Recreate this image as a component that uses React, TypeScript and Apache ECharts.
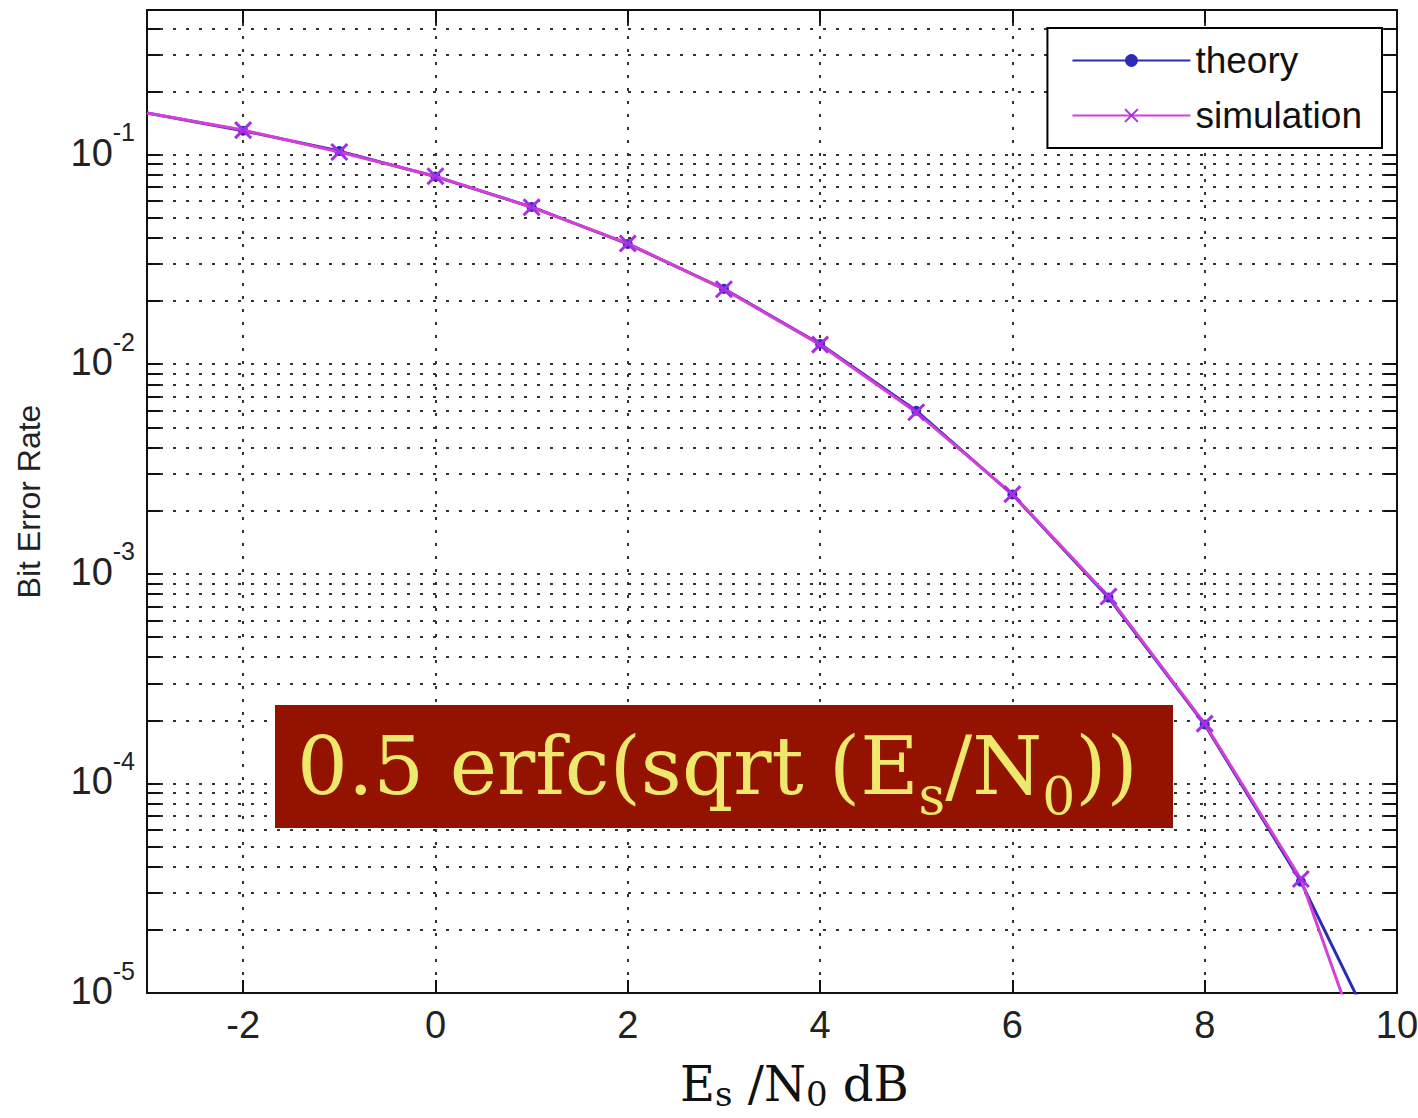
import React, { useEffect, useRef } from "react";
import * as echarts from "echarts";

// ---------- data ----------
const xValues = [-3, -2, -1, 0, 1, 2, 3, 4, 5, 6, 7, 8, 9, 10];
const theory = [0.158, 0.13, 0.104, 0.0786, 0.0563, 0.0375, 0.0229, 0.0125, 0.006, 0.00239, 0.00077, 0.000191, 3.4e-5, 3.9e-6];
const simulation = [0.158, 0.131, 0.103, 0.0789, 0.0561, 0.0377, 0.0228, 0.0124, 0.0059, 0.0024, 0.00078, 0.000193, 3.5e-5, 1.8e-6];
const xTicks = [-2, 0, 2, 4, 6, 8, 10];
const yMajorTicks = [1e-5, 1e-4, 1e-3, 1e-2, 1e-1];
const yMinorMantissas = [2, 3, 4, 5, 6, 7, 8, 9];
const seriesNames = ["theory", "simulation"];

const X_MIN = -3;
const X_MAX = 10;
const Y_MIN = 1e-5;
const Y_MAX = 0.49;

const yAllTicks: number[] = [];
yMajorTicks.forEach((d) => {
  yAllTicks.push(d);
  yMinorMantissas.forEach((m) => {
    const v = parseFloat((m * d).toPrecision(3));
    if (v <= Y_MAX) yAllTicks.push(v);
  });
});

const SANS = "'Liberation Sans', Arial, sans-serif";
const SERIF = "'DejaVu Serif', 'Liberation Serif', serif";

const gridLine = { color: "#333", width: 2, type: [3, 10] as number[] };
const tickStyle = { color: "#111", width: 2 };

// no marker drawn at the left boundary point
const pointData = (vals: number[]) =>
  xValues.map((x, i) => (x === X_MIN ? { value: [x, vals[i]], symbol: "none" } : [x, vals[i]]));

export default function App() {
  const ref = useRef<HTMLDivElement>(null);

  useEffect(() => {
    if (!ref.current) return;
    const chart = echarts.init(ref.current, null, { renderer: "svg" });

    const yLabelRich = {
      b: { fontSize: 38, fontFamily: SANS, color: "#222", verticalAlign: "bottom" },
      s: { fontSize: 25, fontFamily: SANS, color: "#222", padding: [0, 0, 27, 0], verticalAlign: "bottom" },
    };

    const option: any = {
      animation: false,
      backgroundColor: "#fff",
      grid: { left: 147, top: 10, right: 21, bottom: 125, outerBoundsMode: "none", containLabel: false },
      legend: {
        data: seriesNames,
        right: 36,
        top: 28,
        orient: "vertical",
        backgroundColor: "#fff",
        borderColor: "#000",
        borderWidth: 2,
        borderRadius: 0,
        padding: [14, 20, 14, 24],
        itemGap: 18,
        itemWidth: 118,
        itemHeight: 16,
        textStyle: { fontSize: 37, fontFamily: SANS, color: "#111" },
        z: 20,
      },
      xAxis: [
        {
          type: "value",
          min: X_MIN,
          max: X_MAX,
          position: "bottom",
          axisLine: { show: true, onZero: false, lineStyle: { color: "#111", width: 2 } },
          axisTick: { show: true, inside: true, length: 13, customValues: xTicks, lineStyle: tickStyle },
          axisLabel: { show: true, customValues: xTicks, fontSize: 38, fontFamily: SANS, color: "#222", margin: 13 },
          splitLine: { show: true, lineStyle: gridLine },
        },
        {
          type: "value",
          min: X_MIN,
          max: X_MAX,
          position: "top",
          axisLine: { show: true, onZero: false, lineStyle: { color: "#111", width: 2 } },
          axisTick: { show: true, inside: true, length: 13, customValues: xTicks, lineStyle: tickStyle },
          axisLabel: { show: false },
          splitLine: { show: false },
        },
      ],
      yAxis: [
        {
          type: "log",
          logBase: 10,
          min: Y_MIN,
          max: Y_MAX,
          position: "left",
          name: "Bit Error Rate",
          nameLocation: "middle",
          nameGap: 102,
          nameRotate: 90,
          nameTextStyle: { fontSize: 32, fontFamily: SANS, color: "#222" },
          axisLine: { show: true, onZero: false, lineStyle: { color: "#111", width: 2 } },
          axisTick: { show: true, inside: true, length: 13, customValues: yAllTicks, lineStyle: tickStyle },
          axisLabel: {
            show: true,
            customValues: yMajorTicks,
            margin: 12,
            padding: [0, 0, 18, 0],
            formatter: (v: number) => `{b|10}{s|${Math.round(Math.log10(v))}}`,
            rich: yLabelRich,
          },
          splitLine: { show: true, lineStyle: gridLine },
        },
        {
          type: "log",
          logBase: 10,
          min: Y_MIN,
          max: Y_MAX,
          position: "right",
          axisLine: { show: true, onZero: false, lineStyle: { color: "#111", width: 2 } },
          axisTick: { show: true, inside: true, length: 13, customValues: yAllTicks, lineStyle: tickStyle },
          axisLabel: { show: false },
          splitLine: { show: false },
        },
      ],
      series: [
        {
          name: seriesNames[0],
          type: "line",
          xAxisIndex: 0,
          yAxisIndex: 0,
          data: pointData(theory),
          lineStyle: { color: "#2b2bb5", width: 3 },
          itemStyle: { color: "#2b2bb5" },
          symbol: "circle",
          symbolSize: 10,
          showSymbol: true,
          clip: true,
          z: 3,
        },
        {
          name: seriesNames[1],
          type: "line",
          xAxisIndex: 0,
          yAxisIndex: 0,
          data: pointData(simulation),
          lineStyle: { color: "#d33fd8", width: 3 },
          itemStyle: { color: "#9a2fe0", borderColor: "#a52fe6", borderWidth: 3 },
          symbol: "path://M0,0L10,10M10,0L0,10",
          symbolSize: 16,
          showSymbol: true,
          clip: true,
          z: 4,
        },
      ],
      graphic: [
        {
          type: "rect",
          z: 100,
          shape: { x: 275, y: 705, width: 898, height: 123 },
          style: { fill: "#931300" },
        },
        {
          type: "text",
          z: 101,
          x: 297,
          y: 766,
          style: {
            text: "0.5 erfc(sqrt (E{sub|s}/N{sub|0}))",
            fill: "#eee86c",
            fontSize: 80,
            fontFamily: SERIF,
            lineHeight: 112,
            verticalAlign: "middle",
            align: "left",
            rich: {
              sub: { fontSize: 52, fontFamily: SERIF, fill: "#eee86c", lineHeight: 52, verticalAlign: "bottom" },
            },
          },
        },
        {
          type: "text",
          z: 101,
          x: 680,
          y: 1084,
          style: {
            text: "E{sub|s} /N{sub|0} dB",
            fill: "#111",
            fontSize: 48,
            fontFamily: SERIF,
            lineHeight: 54,
            verticalAlign: "middle",
            align: "left",
            rich: {
              sub: { fontSize: 34, fontFamily: SERIF, fill: "#111", lineHeight: 34, verticalAlign: "bottom" },
            },
          },
        },
      ],
    };

    chart.setOption(option);
    return () => chart.dispose();
  }, []);

  return (
    <div
      ref={ref}
      style={{ position: "absolute", left: 0, top: 0, width: 1418, height: 1118, background: "#fff" }}
    />
  );
}
